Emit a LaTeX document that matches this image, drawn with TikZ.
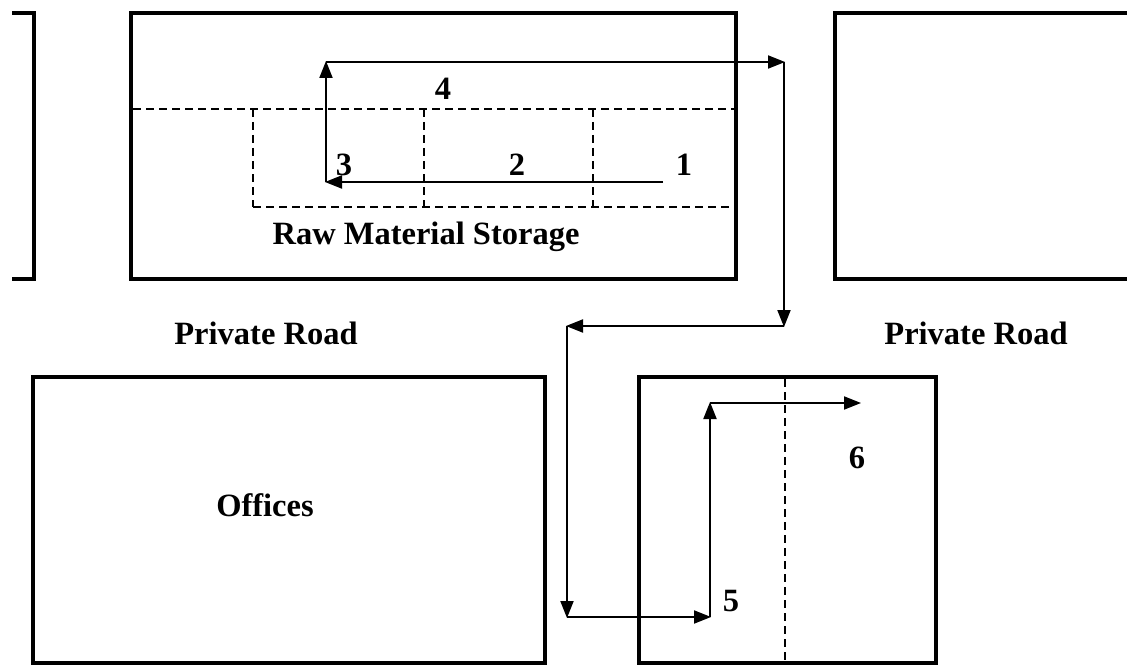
\documentclass[tikz,border=0pt]{standalone}
\usepackage{fontspec}
\setmainfont{Liberation Serif}
\usetikzlibrary{arrows.meta}
\tikzset{
  wall/.style={line width=4.5pt, line join=miter},
  zone/.style={line width=2.2pt, dash pattern=on 8pt off 5pt},
  flow/.style={line width=2pt, -{Triangle[length=17pt,width=13pt]}, shorten >=-1pt},
  lbl/.style={font=\fontsize{32.5}{32.5}\selectfont\bfseries, inner sep=0pt},
}
\begin{document}
\begin{tikzpicture}[x=1pt,y=-1pt]
\useasboundingbox (0,0) rectangle (1127,666);
\clip (0,0) rectangle (1127,666);
\fill[white] (0,0) rectangle (1127,666);
% buildings
\draw[wall] (12,13) -- (34,13) -- (34,279) -- (12,279);
\draw[wall] (131,13) rectangle (736,279);
\draw[wall] (835,13) rectangle (1150,279);
\draw[wall] (33,377) rectangle (545,663);
\draw[wall] (639,377) rectangle (936,663);
% zones
\draw[zone] (133,109) -- (734,109);
\draw[zone] (253,207) -- (734,207);
\draw[zone] (253,109) -- (253,207);
\draw[zone] (424,109) -- (424,207);
\draw[zone] (593,109) -- (593,207);
\draw[zone] (785,379) -- (785,661);
% flow corners
\coordinate (s1) at (663,182);
\coordinate (c3) at (326,182);
\coordinate (c4) at (326,62);
\coordinate (c4r) at (784,62);
\coordinate (cd) at (784,326);
\coordinate (cl) at (567,326);
\coordinate (cb) at (567,617);
\coordinate (c5) at (710,617);
\coordinate (c6) at (710,403);
\coordinate (e6) at (860,403);
\draw[flow] (s1) -- (c3);
\draw[flow] (c3) -- (c4);
\draw[flow] (c4) -- (c4r);
\draw[flow] (c4r) -- (cd);
\draw[flow] (cd) -- (cl);
\draw[flow] (cl) -- (cb);
\draw[flow] (cb) -- (c5);
\draw[flow] (c5) -- (c6);
\draw[flow] (c6) -- (e6);
% labels
\node[lbl] (n1) at (684,165) {1};
\node[lbl] (n2) at (517,165) {2};
\node[lbl] (n3) at (344,165) {3};
\node[lbl] (n4) at (443,89) {4};
\node[lbl] (n5) at (731,601) {5};
\node[lbl] (n6) at (857,458) {6};
\node[lbl] (rms) at (426,237) {Raw Material Storage};
\node[lbl] (pr1) at (266,333) {Private Road};
\node[lbl] (pr2) at (976,333) {Private Road};
\node[lbl] (off) at (265,505) {Offices};
\end{tikzpicture}
\end{document}
